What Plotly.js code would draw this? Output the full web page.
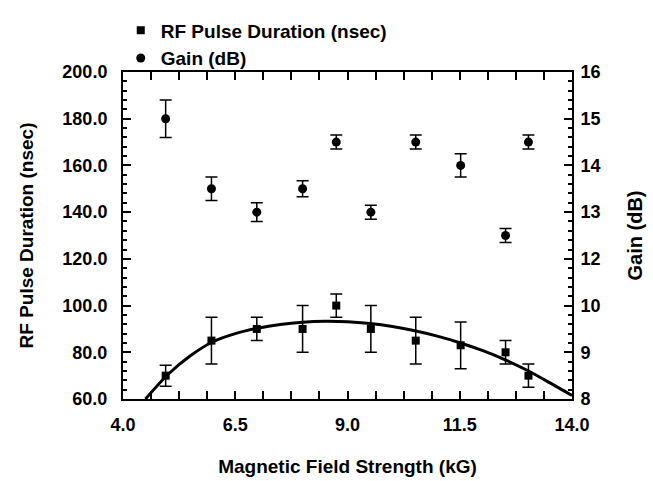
<!DOCTYPE html>
<html>
<head>
<meta charset="utf-8">
<script src="https://cdn.plot.ly/plotly-3.0.1.min.js"></script>
<style>html,body{margin:0;padding:0;background:#fff;}#chart{width:653px;height:481px;}</style>
</head>
<body>
<div id="chart"></div>
<script>
// Data
const fieldStrength = [4.95, 5.97, 6.98, 8.0, 8.75, 9.52, 10.52, 11.52, 12.52, 13.03];
const pulseDuration = [70, 85, 90, 90, 100, 90, 85, 83, 80, 70];
const pulseErr      = [4.5, 10, 5, 10, 5, 10, 10, 10, 5, 5];
const gainDb        = [15, 13.5, 13, 13.5, 14.5, 13, 14.5, 14, 12.5, 14.5];
const gainErr       = [0.4, 0.25, 0.2, 0.17, 0.15, 0.15, 0.15, 0.25, 0.15, 0.15];
// Fitted curve
const fitX = [4.5, 5.0, 5.5, 6.0, 6.5, 7.0, 7.5, 8.0, 8.5, 9.0, 9.5, 10.0, 10.5, 11.0, 11.5, 12.0, 12.5, 13.0, 13.5, 14.0];
const fitY = [60, 70.5, 78.5, 84.5, 88.0, 90.3, 91.9, 92.9, 93.3, 93.1, 92.3, 91.0, 89.2, 86.9, 84.1, 80.8, 76.9, 72.3, 67.0, 61.5];
// Right-axis tick labels as printed on the reference (evenly spaced, "11" printed as "10")
const gainLabelAlias = {'9': '8', '10': '9', '11': '10'};

const F = 'Liberation Sans, Arial, sans-serif';
const font = (s) => ({family: F, size: s, color: '#000', weight: 'bold'});

const traces = [
  {
    x: fitX, y: fitY, type: 'scatter', mode: 'lines',
    line: {color: '#000', width: 3, shape: 'spline', smoothing: 0.8},
    showlegend: false, hoverinfo: 'skip', cliponaxis: true
  },
  {
    x: fieldStrength, y: pulseDuration, type: 'scatter', mode: 'markers',
    name: 'RF Pulse Duration (nsec)',
    marker: {symbol: 'square', size: 8, color: '#000'},
    error_y: {type: 'data', array: pulseErr, visible: true, color: '#000', thickness: 1.5, width: 6}
  },
  {
    x: fieldStrength, y: gainDb, type: 'scatter', mode: 'markers', yaxis: 'y2',
    name: 'Gain (dB)',
    marker: {symbol: 'circle', size: 9, color: '#000'},
    error_y: {type: 'data', array: gainErr, visible: true, color: '#000', thickness: 1.5, width: 6}
  }
];

const layout = {
  width: 653, height: 481,
  margin: {l: 123, r: 81, t: 65, b: 82},
  paper_bgcolor: '#fff', plot_bgcolor: '#fff',
  font: font(18),
  showlegend: true,
  legend: {
    x: -0.005, y: 1.185, xanchor: 'left', yanchor: 'top',
    font: font(19), bgcolor: 'rgba(0,0,0,0)', tracegroupgap: 0, borderwidth: 0
  },
  xaxis: {
    range: [4, 14], tickmode: 'linear', tick0: 4, dtick: 2.5, tickformat: '.1f',
    ticks: 'inside', ticklen: 8, tickwidth: 2, tickcolor: '#000',
    minor: {ticks: 'inside', dtick: 0.625, tick0: 4, ticklen: 4, tickwidth: 2, tickcolor: '#000'},
    showline: true, linecolor: '#000', linewidth: 2, mirror: 'allticks',
    showgrid: false, zeroline: false, automargin: false,
    tickfont: font(18), ticklabelstandoff: 8,
    title: {text: 'Magnetic Field Strength (kG)', font: font(19), standoff: 26}
  },
  yaxis: {
    range: [60, 200], tickmode: 'linear', tick0: 60, dtick: 20, tickformat: '.1f',
    ticks: 'inside', ticklen: 8, tickwidth: 2, tickcolor: '#000',
    minor: {ticks: 'inside', dtick: 4, tick0: 60, ticklen: 4, tickwidth: 2, tickcolor: '#000'},
    showline: true, linecolor: '#000', linewidth: 2,
    showgrid: false, zeroline: false, automargin: false,
    tickfont: font(18), ticklabelstandoff: 10,
    title: {text: 'RF Pulse Duration (nsec)', font: font(19), standoff: 24}
  },
  yaxis2: {
    overlaying: 'y', side: 'right', range: [9, 16],
    tickmode: 'linear', tick0: 9, dtick: 1, labelalias: gainLabelAlias,
    ticks: 'inside', ticklen: 8, tickwidth: 2, tickcolor: '#000',
    minor: {ticks: 'inside', dtick: 0.2, tick0: 9, ticklen: 4, tickwidth: 2, tickcolor: '#000'},
    showline: true, linecolor: '#000', linewidth: 2,
    showgrid: false, zeroline: false, automargin: false,
    tickfont: font(18), ticklabelstandoff: 3,
    title: {text: 'Gain (dB)', font: font(20), standoff: 28}
  }
};

Plotly.newPlot('chart', traces, layout, {displayModeBar: false});
</script>
</body>
</html>
